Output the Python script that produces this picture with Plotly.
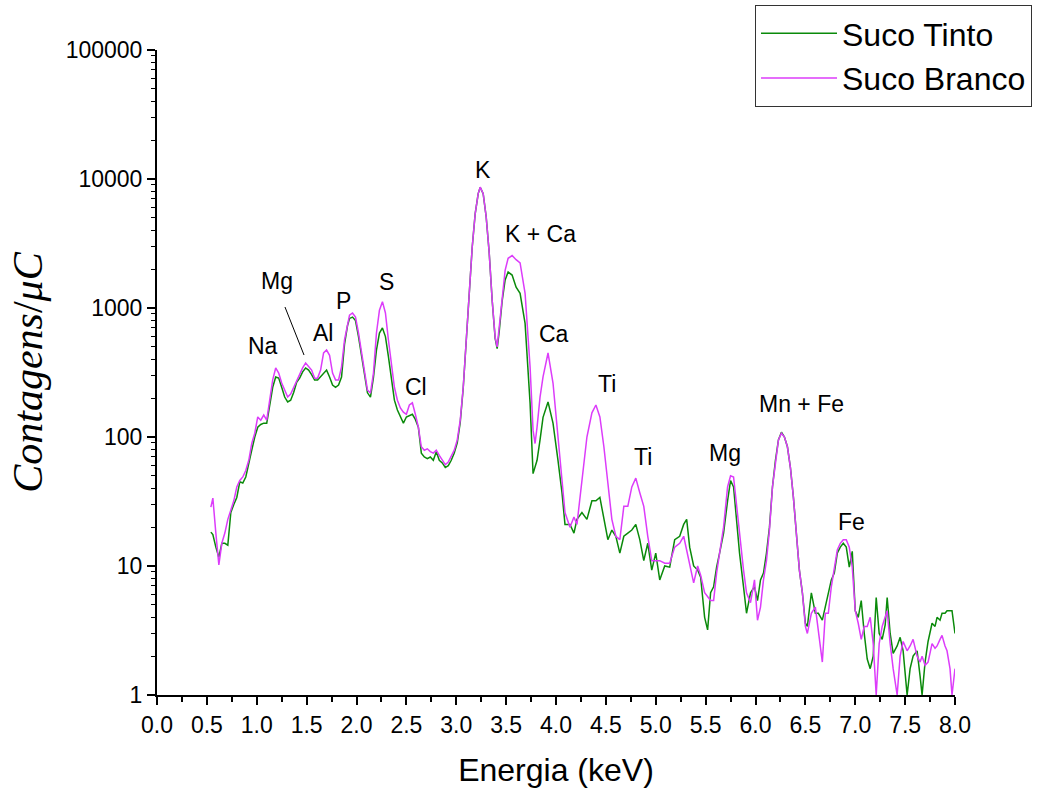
import numpy as np
import plotly.graph_objects as go

energia = [0.54, 0.56, 0.59, 0.62, 0.65, 0.68, 0.71, 0.74, 0.77, 0.80, 0.83, 0.86, 0.89, 0.92, 0.95, 0.98,
           1.01, 1.04, 1.07, 1.10, 1.13, 1.16, 1.19, 1.22, 1.25, 1.28, 1.31, 1.34, 1.37, 1.40, 1.43, 1.46,
           1.49, 1.52, 1.55, 1.58, 1.61, 1.64, 1.67, 1.70, 1.73, 1.76, 1.79, 1.82, 1.85, 1.88, 1.91, 1.93,
           1.96, 1.99, 2.02, 2.05, 2.08, 2.11, 2.14, 2.17, 2.20, 2.23, 2.26, 2.29, 2.32, 2.35, 2.38, 2.41,
           2.44, 2.47, 2.50, 2.53, 2.56, 2.59, 2.62, 2.65, 2.68, 2.71, 2.74, 2.77, 2.80, 2.83, 2.86, 2.89,
           2.92, 2.95, 2.98, 3.01, 3.04, 3.07, 3.10, 3.13, 3.16, 3.19, 3.22, 3.24, 3.27, 3.30, 3.33, 3.36,
           3.39, 3.41, 3.43, 3.46, 3.49, 3.52, 3.56, 3.60, 3.64, 3.69, 3.74, 3.77, 3.79, 3.81, 3.84, 3.87,
           3.92, 3.97, 4.02, 4.06, 4.09, 4.14, 4.18, 4.21, 4.26, 4.31, 4.36, 4.40, 4.44, 4.48, 4.52, 4.56,
           4.60, 4.64, 4.68, 4.72, 4.76, 4.80, 4.84, 4.88, 4.92, 4.96, 5.00, 5.04, 5.09, 5.14, 5.19, 5.24,
           5.28, 5.31, 5.34, 5.38, 5.42, 5.45, 5.49, 5.52, 5.55, 5.58, 5.61, 5.64, 5.68, 5.72, 5.75, 5.78,
           5.81, 5.84, 5.88, 5.91, 5.95, 5.99, 6.02, 6.05, 6.08, 6.11, 6.14, 6.17, 6.20, 6.23, 6.26, 6.29,
           6.32, 6.35, 6.38, 6.41, 6.44, 6.47, 6.50, 6.52, 6.56, 6.60, 6.63, 6.67, 6.70, 6.73, 6.76, 6.79,
           6.82, 6.85, 6.88, 6.91, 6.94, 6.97, 7.00, 7.03, 7.06, 7.09, 7.12, 7.15, 7.18, 7.21, 7.24, 7.27,
           7.30, 7.32, 7.35, 7.38, 7.42, 7.45, 7.48, 7.52, 7.55, 7.58, 7.62, 7.65, 7.67, 7.70, 7.73, 7.77,
           7.80, 7.82, 7.85, 7.87, 7.90, 7.92, 7.95, 7.97, 8.00]

suco_branco = [28.6, 33.6, 18, 10.2, 15, 18, 23, 27, 32, 41, 46, 49, 55, 66, 89, 107,
               143, 135, 148, 135, 193, 277, 343, 313, 262, 231, 204, 215, 243, 277, 304, 343,
               375, 350, 330, 286, 286, 330, 448, 472, 430, 313, 277, 277, 350, 565, 760, 880,
               915, 850, 640, 448, 313, 231, 219, 313, 640, 960, 1120, 915, 565, 350, 243, 193,
               168, 156, 150, 177, 184, 150, 119, 84, 79, 81, 77, 75, 79, 72, 66, 61,
               64, 72, 79, 95, 135, 243, 565, 1300, 2960, 5400, 7700, 8650, 7700, 5100, 2700, 1150,
               595, 500, 710, 1300, 1960, 2430, 2550, 2370, 2240, 1300, 350, 113, 89, 119, 204, 292,
               448, 262, 100, 44, 26, 20, 24, 21, 46, 100, 154, 177, 143, 84, 44, 23,
               17, 16, 29, 29, 41, 48, 37, 29, 17, 11, 11, 11, 10.5, 10.5, 14, 15,
               17, 13, 10, 7.4, 10, 8.5, 6.2, 5.8, 5.4, 5.4, 8.8, 12.6, 20, 41, 50, 49,
               30, 17, 9.3, 6.2, 5.2, 7.8, 3.8, 4.8, 7.8, 11, 19, 41, 66, 95, 107, 100,
               84, 58, 34, 19, 9.3, 6.2, 3.4, 3.0, 4.3, 4.8, 3.2, 1.8, 4.3, 4.3, 6.9, 9.8,
               13.3, 15, 16, 16, 14, 9.8, 4.5, 3.6, 2.7, 3.4, 3.4, 4.0, 2.5, 1.0, 2.5, 3.4,
               4.0, 4.5, 2.5, 1.6, 1.0, 2.0, 2.6, 2.2, 2.4, 2.7, 2.0, 1.8, 2.0, 1.7, 1.8, 2.5,
               2.3, 2.4, 2.7, 2.9, 2.4, 2.2, 1.6, 1.0, 1.6]

suco_tinto = [18.3, 17.5, 14, 11.7, 15, 15, 14.5, 26, 30, 34, 45, 44, 49, 64, 79, 100,
              119, 125, 128, 128, 171, 243, 292, 286, 243, 204, 187, 193, 221, 266, 286, 320,
              343, 330, 304, 277, 277, 295, 313, 330, 292, 253, 243, 253, 292, 525, 730, 830,
              850, 800, 600, 425, 300, 220, 204, 290, 472, 640, 700, 600, 420, 292, 193, 162,
              143, 128, 143, 146, 150, 137, 119, 75, 70, 68, 70, 66, 77, 66, 63, 58,
              60, 66, 75, 90, 130, 240, 560, 1300, 2960, 5400, 7700, 8600, 7700, 5100, 2700, 1150,
              580, 485, 650, 1130, 1650, 1900, 1800, 1450, 1300, 760, 184, 52, 60, 66, 95, 142,
              187, 128, 66, 37, 21, 21, 18, 23, 26, 23, 32, 32, 34, 23, 16, 19,
              17, 12.6, 17, 18, 19, 21, 16, 11, 15, 9.3, 12.6, 7.8, 10, 9.8, 16, 17,
              21, 23, 14, 10, 9.3, 8.2, 4.0, 3.2, 6.2, 6.9, 9.8, 12.6, 18, 32, 46, 41,
              23, 12.6, 6.9, 4.3, 6.2, 6.9, 5.4, 7.8, 8.8, 12.6, 20, 41, 66, 95, 109, 100,
              84, 58, 34, 19, 9.3, 6.2, 3.6, 3.4, 6.2, 4.3, 4.3, 3.8, 4.8, 6.2, 7.8, 8.8,
              12.6, 14, 15, 14, 9.8, 13, 4.5, 4.0, 5.4, 3.0, 1.9, 1.6, 2.0, 5.7, 3.0, 2.7,
              3.5, 5.7, 3.0, 2.1, 2.4, 2.8, 2.2, 1.0, 1.6, 2.0, 2.2, 1.4, 1.0, 1.8, 2.6, 3.6,
              3.4, 4.0, 3.8, 4.3, 4.3, 4.5, 4.5, 4.5, 3.0]

peak_labels = ["Na", "Mg", "Al", "P", "S", "Cl", "K", "K + Ca", "Ca", "Ti", "Ti", "Mg", "Mn + Fe", "Fe"]
peak_label_x = [1.06, 1.20, 1.66, 1.87, 2.30, 2.60, 3.27, 3.84, 3.98, 4.51, 4.87, 5.69, 6.46, 6.96]
peak_label_y = [507, 1620, 640, 1133, 1590, 244, 11700, 3750, 629, 258, 70, 75, 180, 21.9]

mg_pointer_x = [1.283, 1.474]
mg_pointer_y = [1018, 432]

x_tickvals = [0.0, 0.5, 1.0, 1.5, 2.0, 2.5, 3.0, 3.5, 4.0, 4.5, 5.0, 5.5, 6.0, 6.5, 7.0, 7.5, 8.0]
x_ticktext = ["0.0", "0.5", "1.0", "1.5", "2.0", "2.5", "3.0", "3.5", "4.0", "4.5", "5.0", "5.5",
              "6.0", "6.5", "7.0", "7.5", "8.0"]
y_tickvals = [1, 10, 100, 1000, 10000, 100000]
y_ticktext = ["1", "10", "100", "1000", "10000", "100000"]

fig = go.Figure()
fig.add_trace(go.Scatter(x=energia, y=suco_tinto, mode="lines", name="Suco Tinto",
                         line=dict(color="#0a8a0a", width=1.5)))
fig.add_trace(go.Scatter(x=energia, y=suco_branco, mode="lines", name="Suco Branco",
                         line=dict(color="#dc3cfa", width=1.5)))
fig.add_trace(go.Scatter(x=mg_pointer_x, y=mg_pointer_y, mode="lines", showlegend=False,
                         hoverinfo="skip", line=dict(color="black", width=1)))

for lab, lx, ly in zip(peak_labels, peak_label_x, peak_label_y):
    fig.add_annotation(x=lx, y=np.log10(ly), text=lab, showarrow=False,
                       font=dict(family="Liberation Sans, Arial, sans-serif", size=23, color="black"))

tick_font = dict(family="Liberation Sans Narrow, Arial Narrow, Liberation Sans, sans-serif", size=23, color="black")

fig.update_xaxes(range=[0, 8], tickvals=x_tickvals, ticktext=x_ticktext, ticks="outside", ticklen=8,
                 tickwidth=2, tickcolor="black", showline=True, linewidth=2, linecolor="black",
                 showgrid=False, zeroline=False, tickfont=tick_font, automargin=False,
                 minor=dict(ticks="outside", ticklen=5, tickwidth=2, tickcolor="black", dtick=0.25, showgrid=False),
                 title=dict(text="Energia (keV)", standoff=22,
                            font=dict(family="Liberation Sans, Arial, sans-serif", size=32, color="black")))
fig.update_yaxes(type="log", range=[0, 5], tickvals=y_tickvals, ticktext=y_ticktext, ticks="outside", ticklen=8,
                 tickwidth=2, tickcolor="black", showline=True, linewidth=2, linecolor="black",
                 showgrid=False, zeroline=False, tickfont=tick_font, automargin=False,
                 minor=dict(ticks="outside", ticklen=4, tickwidth=1, tickcolor="black", dtick="D1", showgrid=False),
                 title=dict(text="<i>Contagens</i>/<i>μC</i>", standoff=10,
                            font=dict(family="Liberation Serif, DejaVu Serif, serif", size=42, color="black")))

fig.update_layout(
    width=1040, height=790,
    margin=dict(l=157, r=85, t=50, b=95, autoexpand=False),
    plot_bgcolor="white", paper_bgcolor="white",
    showlegend=True,
    legend=dict(xref="container", yref="container", x=755 / 1040, y=1 - 5 / 790,
                xanchor="left", yanchor="top",
                font=dict(family="Liberation Sans, Arial, sans-serif", size=32, color="black"),
                bgcolor="white", bordercolor="#333333", borderwidth=1, itemwidth=76,
                tracegroupgap=0),
)

fig.write_html("out.html")
